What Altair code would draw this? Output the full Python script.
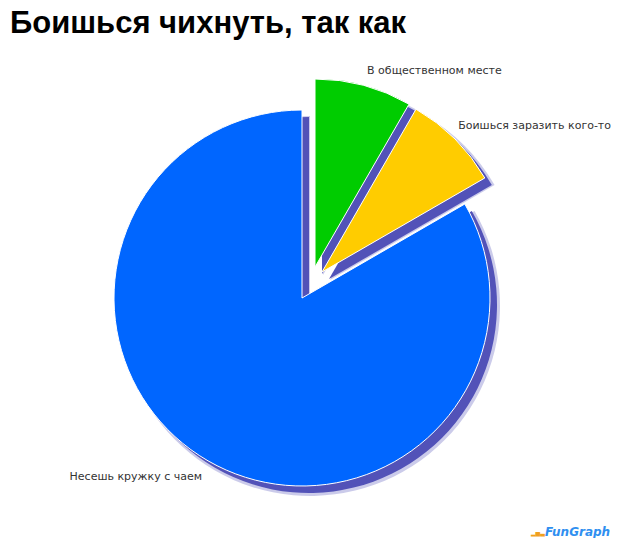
import math
import altair as alt
import pandas as pd

# ---- data ----
labels = ["В общественном месте", "Боишься заразить кого-то", "Несешь кружку с чаем"]
values = [1, 1, 10]
colors = ["#00cc00", "#ffcc00", "#0066ff"]

# ---- styling (per slice: explode offsets and label placement) ----
explode = [(13, -31), (20, -26), (0, 0)]
label_style = [
    dict(radius=236, align="left", dx=4, dy=1),
    dict(radius=235, align="left", dx=-10, dy=-6),
    dict(radius=200, align="right", dx=0, dy=6),
]
SHADOW = "#5252b8"
R = 188

total = sum(values)
starts, ends = [], []
acc = 0
for v in values:
    starts.append(acc)
    acc += v
    ends.append(acc)

df = pd.DataFrame({
    "label": labels,
    "value": values,
    "start": starts,
    "end": ends,
    "mid": [(s + e) / 2 for s, e in zip(starts, ends)],
})

theta_scale = alt.Scale(domain=[0, total], range=[0, 2 * math.pi])
base = alt.Chart(df)

layers = []
# shadows first
for i, lab in enumerate(labels):
    ox, oy = explode[i]
    sel = base.transform_filter(alt.datum.label == lab)
    layers.append(
        sel.mark_arc(radius=R + 2, xOffset=ox + 8, yOffset=oy + 8, color=SHADOW, opacity=0.3).encode(
            theta=alt.Theta("start:Q", scale=theta_scale), theta2="end:Q"
        )
    )
    layers.append(
        sel.mark_arc(radius=R, xOffset=ox + 7, yOffset=oy + 7, color=SHADOW).encode(
            theta=alt.Theta("start:Q", scale=theta_scale), theta2="end:Q"
        )
    )
# slices
for i, lab in enumerate(labels):
    ox, oy = explode[i]
    sel = base.transform_filter(alt.datum.label == lab)
    layers.append(
        sel.mark_arc(radius=R, xOffset=ox, yOffset=oy, color=colors[i],
                     stroke="white", strokeWidth=1).encode(
            theta=alt.Theta("start:Q", scale=theta_scale), theta2="end:Q"
        )
    )
# labels
for i, lab in enumerate(labels):
    st = label_style[i]
    sel = base.transform_filter(alt.datum.label == lab)
    layers.append(
        sel.mark_text(radius=st["radius"], align=st["align"], baseline="middle",
                      dx=st["dx"], dy=st["dy"], font="DejaVu Sans", fontSize=11,
                      color="#333333").encode(
            theta=alt.Theta("mid:Q", scale=theta_scale), text="label:N"
        )
    )

# watermark
wm_bars = alt.Chart(pd.DataFrame({"t": ["▂▅▃"]})).mark_text(
    font="DejaVu Sans", fontSize=6, color="#f0a020", align="left", baseline="middle"
).encode(x=alt.value(521), y=alt.value(475), text="t:N")
wm = alt.Chart(pd.DataFrame({"t": ["FunGraph"]})).mark_text(
    font="DejaVu Sans", fontSize=12, fontWeight="bold", fontStyle="italic",
    color="#2f8ff0", align="left", baseline="middle"
).encode(x=alt.value(535), y=alt.value(474), text="t:N")
layers.append(wm_bars)
layers.append(wm)

chart = alt.layer(*layers).properties(
    width=584,
    height=480,
    padding={"left": 2, "top": 50, "right": 18, "bottom": 0},
    autosize=alt.AutoSizeParams(type="none"),
    background="white",
    title=alt.TitleParams(
        "Боишься чихнуть, так как",
        anchor="start", font="Liberation Sans", fontSize=31, fontWeight="bold",
        color="#000000", offset=18,
    ),
).configure_view(stroke=None)

chart.save("out.html", embed_options={"renderer": "svg", "actions": False})
